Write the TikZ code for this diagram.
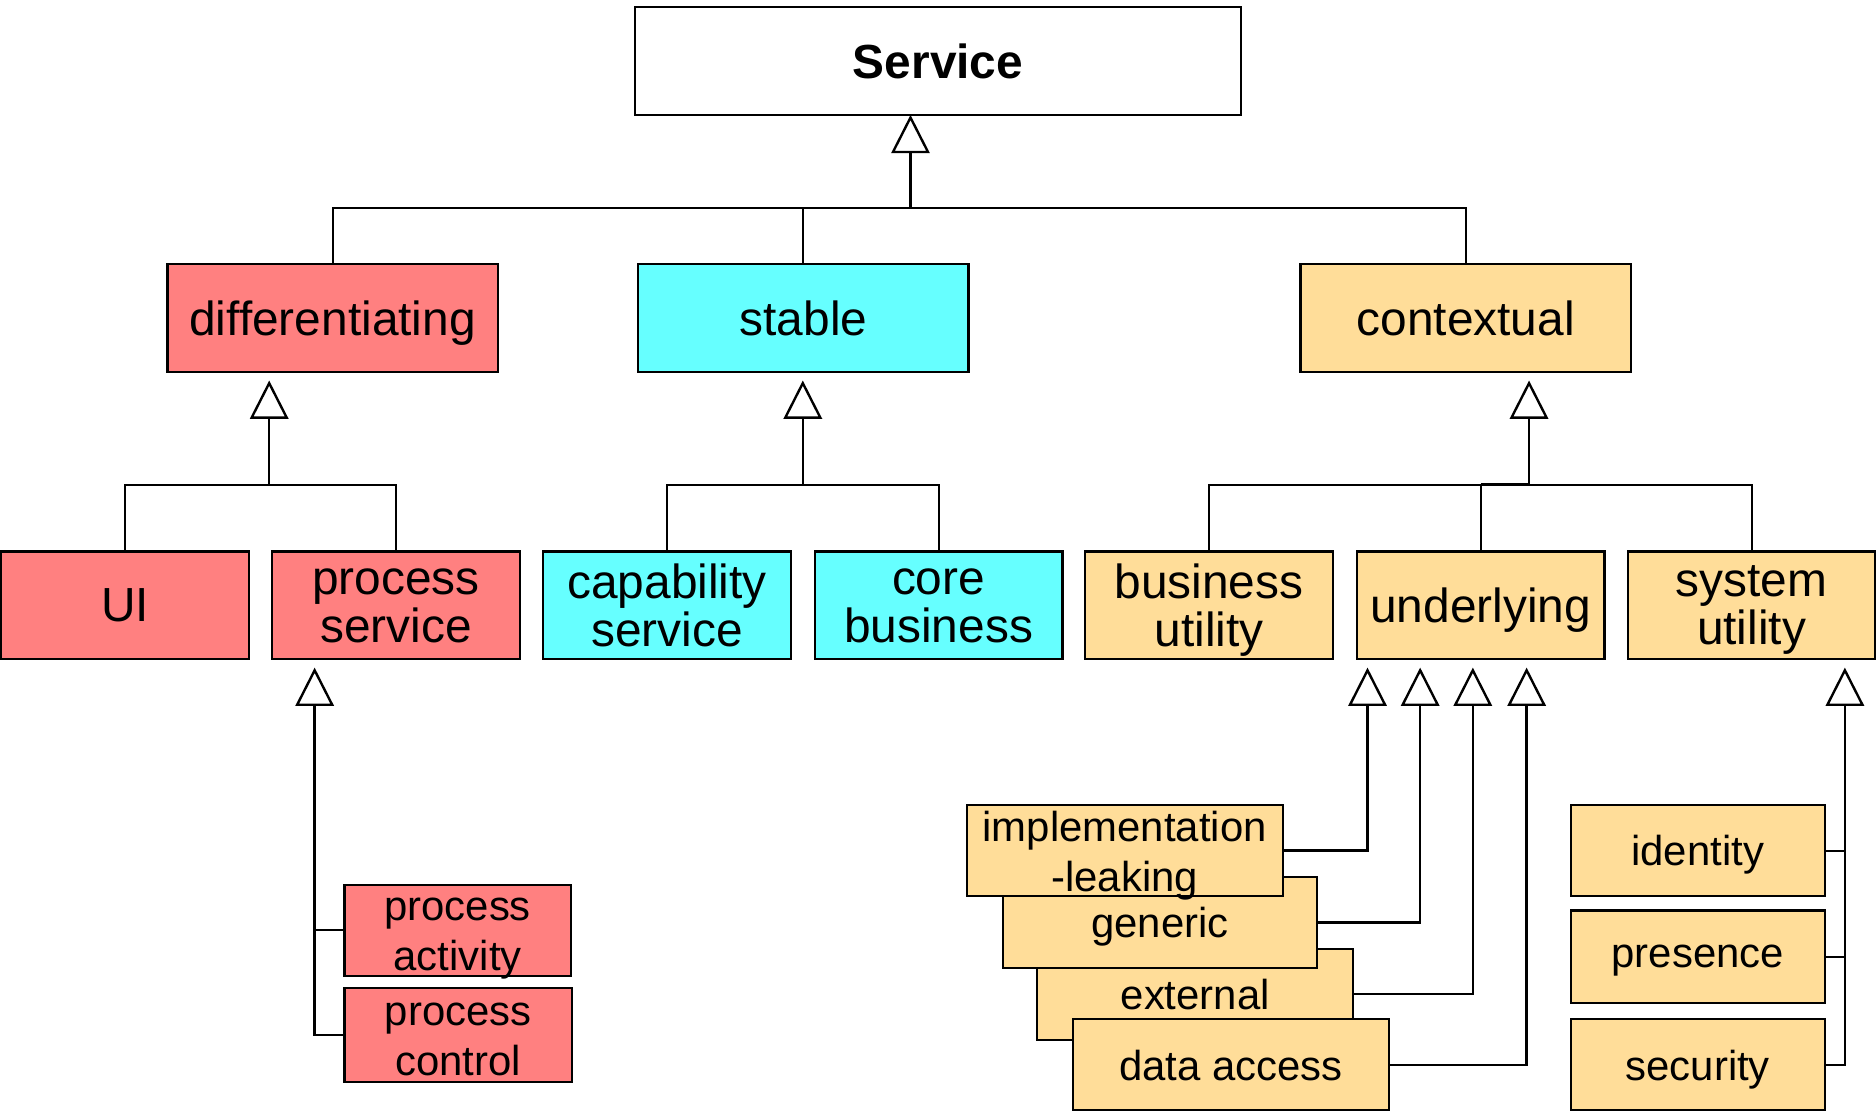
\documentclass[tikz,border=0pt]{standalone}
\usepackage{fontspec}
\setmainfont{Liberation Sans}
\usetikzlibrary{arrows.meta}
\definecolor{diffred}{RGB}{255,128,128}
\definecolor{stablecyan}{RGB}{102,255,255}
\definecolor{contextan}{RGB}{255,221,153}
\tikzset{
  box/.style={draw=black, line width=0.9pt, inner sep=0pt, outer sep=0pt, align=center, text depth=0pt},
  bigbox/.style={box, minimum width=138pt, minimum height=45pt, font=\fontsize{20}{20}\selectfont},
  midbox/.style={box, minimum width=103.5pt, minimum height=45pt, font=\fontsize{20}{20}\selectfont},
  smallbox/.style={box, minimum height=38pt, font=\fontsize{17.5}{21}\selectfont},
  twolinesmall/.style={text height=34pt, text depth=0pt},
  redbox/.style={fill=diffred},
  cyanbox/.style={fill=stablecyan},
  tanbox/.style={fill=contextan},
  conn/.style={draw=black, line width=0.8pt},
  stemline/.style={draw=black, line width=1pt},
  genarrow/.style={-{Triangle[open,length=16pt,width=16pt]}},
}
\begin{document}
\begin{tikzpicture}[x=0.5pt, y=-0.5pt]
\useasboundingbox[fill=white] (0,0) rectangle (1568,932);

% root
\node[box, minimum width=253pt, minimum height=45pt, fill=white,
      font=\fontsize{20}{20}\selectfont\bfseries] (service) at (784,51) {Service};

% first level
\node[bigbox, redbox]  (differentiating) at (278,266)    {differentiating};
\node[bigbox, cyanbox] (stable)          at (671.5,266)  {stable};
\node[bigbox, tanbox]  (contextual)      at (1225,266)   {contextual};

% second level
\node[midbox, redbox]  (ui)              at (104.5,506)  {UI};
\node[midbox, redbox]  (processservice)  at (331,506)    {process\\service};
\node[midbox, cyanbox] (capability)      at (557.5,506)  {capability\\service};
\node[midbox, cyanbox] (corebusiness)    at (784.5,506)  {core\\business};
\node[midbox, tanbox]  (businessutility) at (1010.5,506) {business\\utility};
\node[midbox, tanbox]  (underlying)      at (1237.5,506) {underlying};
\node[midbox, tanbox]  (systemutility)   at (1464,506)   {system\\utility};

% process service children
\node[smallbox, twolinesmall, redbox, minimum width=94.5pt] (processactivity) at (382.5,777.5) {process\\activity};
\node[smallbox, twolinesmall, redbox, minimum width=95pt, minimum height=39pt] (processcontrol) at (383,865) {process\\control};

% underlying children (stacked, later ones drawn on top)
\node[smallbox, tanbox, minimum width=132pt] (external)   at (999,831)   {external};
\node[smallbox, tanbox, minimum width=132pt] (dataaccess) at (1029,890)  {data access};
\node[smallbox, tanbox, minimum width=131.5pt] (generic)  at (969.5,771) {generic};
\node[smallbox, twolinesmall, tanbox, minimum width=132pt] (implleak) at (940,711) {implementation\\-leaking};

% system utility children
\node[smallbox, tanbox, minimum width=106pt] (identity) at (1419,711)   {identity};
\node[smallbox, tanbox, minimum width=106pt, minimum height=38.5pt] (presence) at (1419,799.5) {presence};
\node[smallbox, tanbox, minimum width=106pt] (security) at (1419,890)   {security};

% ---- generalisation connectors ----
% Service
\coordinate (topbar) at (761,174);
\draw[conn] (differentiating.north) |- (topbar) -| (contextual.north);
\draw[conn] (stable.north) -- (stable.north |- topbar);
\draw[stemline] (stable.north |- topbar) -- (topbar);
\draw[stemline, genarrow] (topbar) -- (topbar |- service.south);

% differentiating
\coordinate (dbar) at (225,405);
\draw[conn] (ui.north) |- (dbar) -| (processservice.north);
\draw[stemline, genarrow, shorten >=3.5pt] (dbar) -- (dbar |- differentiating.south);

% stable
\coordinate (sbar) at (671,405);
\draw[conn] (capability.north) |- (sbar) -| (corebusiness.north);
\draw[stemline, genarrow, shorten >=3.5pt] (sbar) -- (sbar |- stable.south);

% contextual
\coordinate (cbar) at (1278,405);
\draw[conn] (businessutility.north) |- (cbar) -| (systemutility.north);
\draw[conn] (underlying.north) -- (underlying.north |- cbar);
\draw[stemline] (underlying.north |- cbar) -- (cbar);
\draw[stemline, genarrow, shorten >=3.5pt] (cbar) -- (cbar |- contextual.south);

% process service
\coordinate (psx) at (263,0);
\draw[stemline, genarrow, shorten >=3.5pt] (processcontrol.west) -| (psx |- processservice.south);
\draw[conn] (processactivity.west) -- (psx |- processactivity.west);

% underlying
\coordinate (ux1) at (1143,0);
\coordinate (ux2) at (1187,0);
\coordinate (ux3) at (1231,0);
\coordinate (ux4) at (1276,0);
\draw[stemline, genarrow, shorten >=3.5pt] (implleak.east)   -| (ux1 |- underlying.south);
\draw[stemline, genarrow, shorten >=3.5pt] (generic.east)    -| (ux2 |- underlying.south);
\draw[stemline, genarrow, shorten >=3.5pt] (external.east)   -| (ux3 |- underlying.south);
\draw[stemline, genarrow, shorten >=3.5pt] (dataaccess.east) -| (ux4 |- underlying.south);

% system utility
\coordinate (sux) at (1542,0);
\draw[stemline, genarrow, shorten >=3.5pt] (security.east) -| (sux |- systemutility.south);
\draw[conn] (identity.east) -- (sux |- identity.east);
\draw[conn] (presence.east) -- (sux |- presence.east);
\end{tikzpicture}
\end{document}
